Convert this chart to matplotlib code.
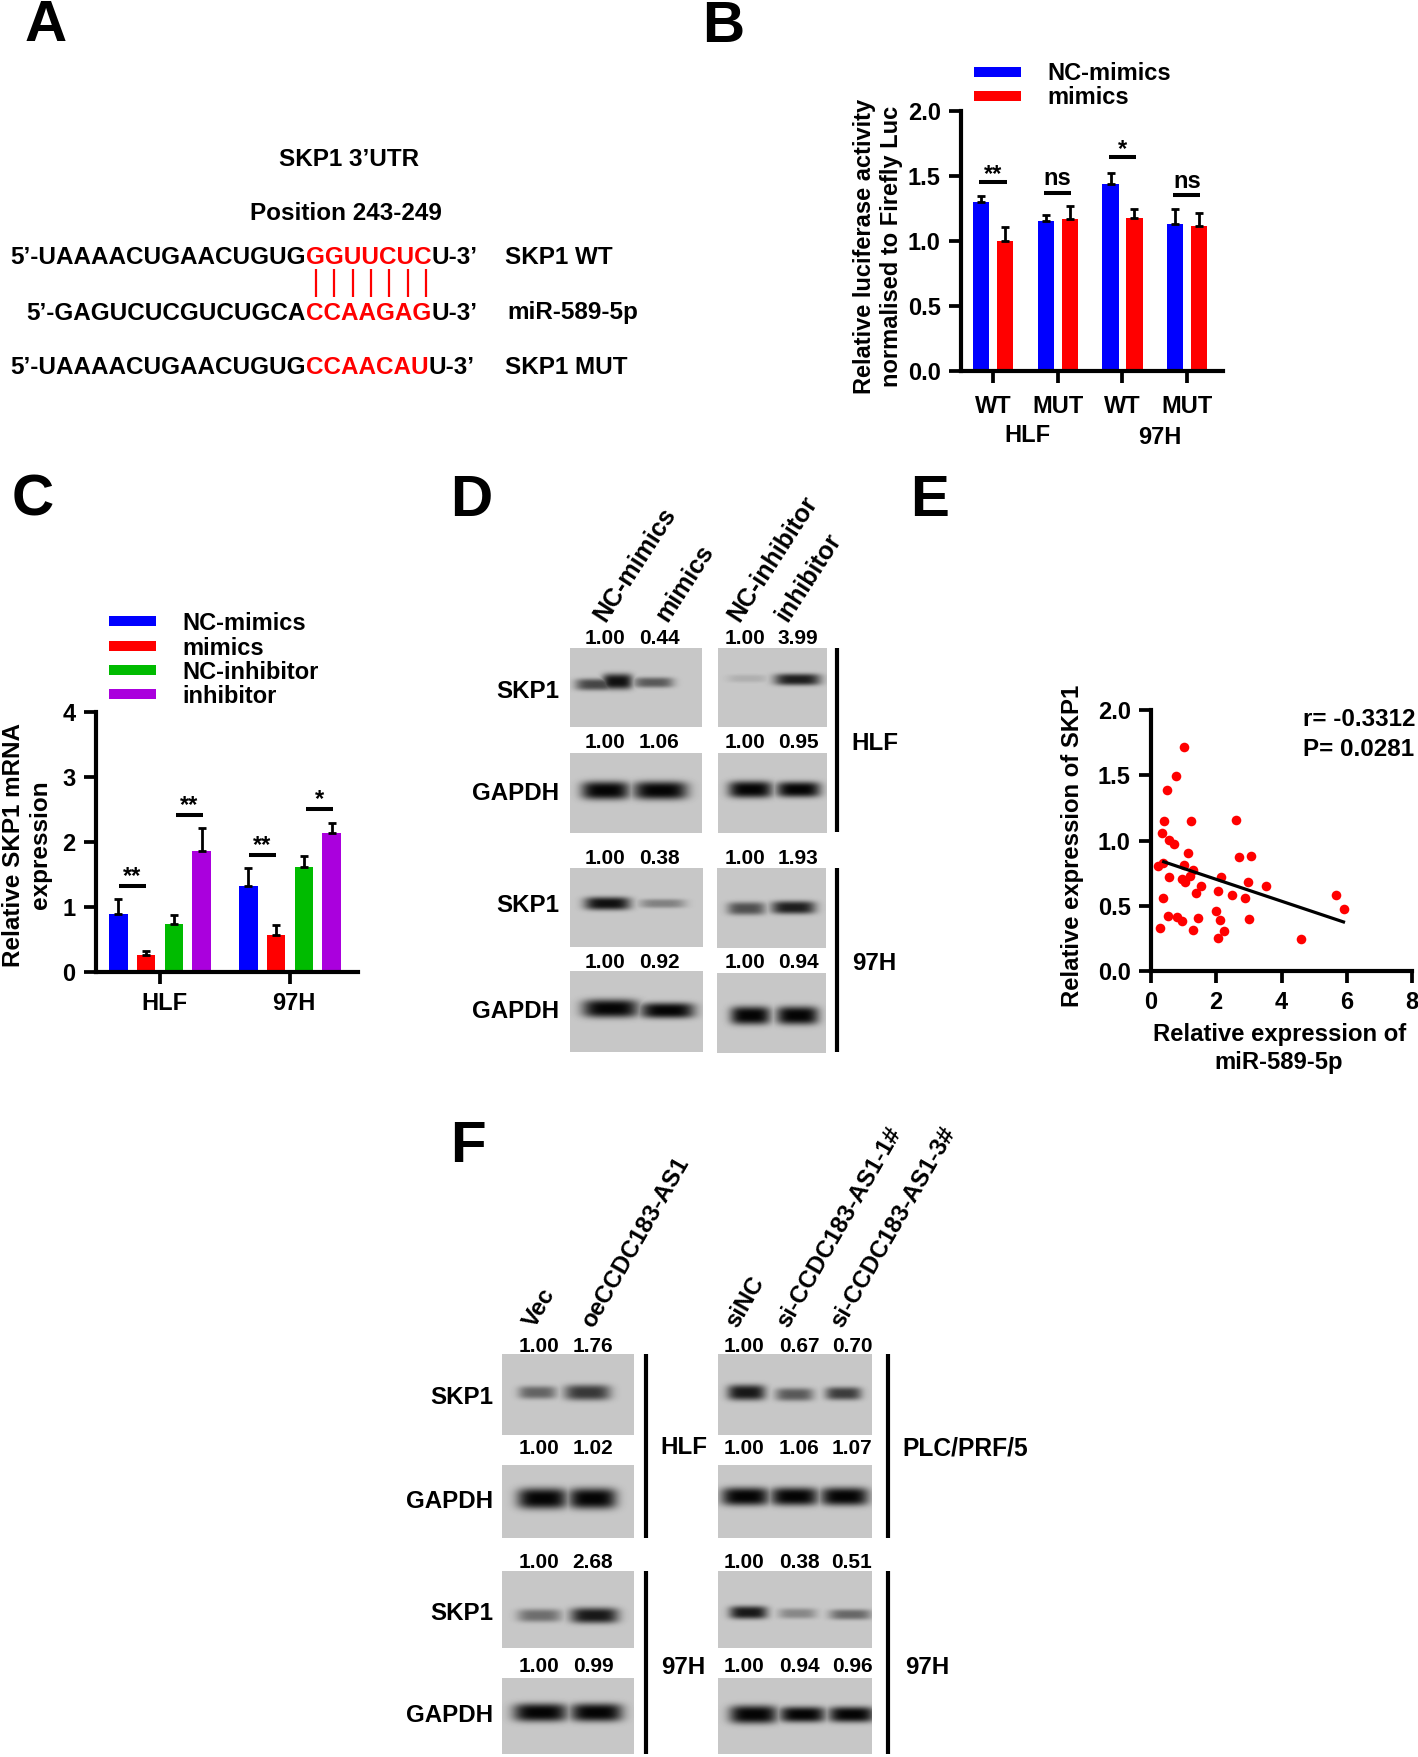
import numpy as np
from matplotlib import pyplot as plt

plt.rcParams['font.family'] = ['Liberation Sans', 'DejaVu Sans']
plt.rcParams['font.weight'] = 'bold'
plt.rcParams['axes.labelweight'] = 'bold'

W, H = 1418, 1757
BLUE, RED, GREEN, PURPLE = '#0000ff', '#ff0000', '#00bb00', '#aa00dd'
FS = 17
LAB = 17.4

# panel B
b_ticks = ['WT', 'MUT', 'WT', 'MUT']
b_nc = [1.30, 1.155, 1.44, 1.13]
b_nc_top = [1.346, 1.20, 1.525, 1.25]
b_mim = [1.00, 1.17, 1.175, 1.115]
b_mim_top = [1.108, 1.27, 1.25, 1.213]
b_sig = ['**', 'ns', '*', 'ns']
b_sig_y = [1.454, 1.37, 1.644, 1.351]

# panel C
c_groups = ['HLF', '97H']
c_names = ['NC-mimics', 'mimics', 'NC-inhibitor', 'inhibitor']
c_vals = [[0.89, 1.33], [0.256, 0.564], [0.733, 1.61], [1.867, 2.144]]
c_tops = [[1.12, 1.595], [0.32, 0.723], [0.87, 1.785], [2.21, 2.297]]
c_sig = ['**', '**', '**', '*']
c_sig_y = [1.33, 2.415, 1.80, 2.51]

# panel E
e_x = [1.00, 0.78, 0.49, 0.41, 0.35, 0.54, 0.69, 1.14, 1.24, 2.60, 2.70, 3.07, 0.20, 0.36,
       1.00, 1.29, 1.21, 0.96, 1.03, 0.54, 2.15, 2.98, 3.53, 1.53, 1.37, 2.04, 2.49, 2.88,
       0.37, 0.51, 0.81, 0.94, 0.27, 1.44, 1.30, 1.98, 2.11, 2.99, 2.25, 2.06, 4.61, 5.66, 5.91]
e_y = [1.718, 1.495, 1.388, 1.147, 1.055, 1.004, 0.976, 0.907, 1.147, 1.155, 0.873, 0.878, 0.804, 0.825,
       0.809, 0.776, 0.727, 0.704, 0.679, 0.72, 0.722, 0.679, 0.65, 0.65, 0.594, 0.615, 0.584, 0.561,
       0.561, 0.425, 0.41, 0.384, 0.33, 0.407, 0.318, 0.461, 0.387, 0.399, 0.305, 0.256, 0.243, 0.579, 0.474]
e_fit_x = [0.39, 5.90]
e_fit_y = [0.837, 0.376]

# blot quantification labels
d_vals = [['1.00', '0.44', '1.00', '3.99'], ['1.00', '1.06', '1.00', '0.95'],
          ['1.00', '0.38', '1.00', '1.93'], ['1.00', '0.92', '1.00', '0.94']]
f_vals = [['1.00', '1.76', '1.00', '0.67', '0.70'], ['1.00', '1.02', '1.00', '1.06', '1.07'],
          ['1.00', '2.68', '1.00', '0.38', '0.51'], ['1.00', '0.99', '1.00', '0.94', '0.96']]


def px_axes(left, top, right, bottom):
    return fig.add_axes([left / W, 1 - bottom / H, (right - left) / W, (bottom - top) / H])


def style_axes(ax):
    ax.patch.set_alpha(0)
    for s in ['top', 'right']:
        ax.spines[s].set_visible(False)
    for s in ['left', 'bottom']:
        ax.spines[s].set_linewidth(3)
    ax.tick_params(length=8.6, width=2.7, labelsize=17, pad=6)


def blot(x0, y0, x1, y1, bands):
    # bands are (centre x, centre y, half width, half height, darkness) in pixels
    yy, xx = np.mgrid[y0:y1, x0:x1]
    prof = np.zeros(xx.shape)
    for cx, cy, hw, hh, dark in bands:
        p = dark * np.exp(-(np.abs(xx - cx) / hw) ** 4) * np.exp(-(np.abs(yy - cy) / (1.3 * hh)) ** 3)
        prof = np.maximum(prof, p)
    img = 0.78 * (1 - prof)
    pg.imshow(img, extent=(x0, x1, y1, y0), cmap='gray', vmin=0, vmax=1, aspect='auto', interpolation='bilinear')


def txt(x, y, s, size=FS, ha='center', color='k', **kw):
    return pg.text(x, y, s, fontsize=size, ha=ha, va='center', color=color, **kw)


def seq_row(x_red, y, before, red, after):
    # black - red - black, glued together around the start of the red part
    r = fig.canvas.get_renderer()
    txt(x_red, y, before, size=SEQ_FS, ha='right')
    t = txt(x_red, y, red, size=SEQ_FS, ha='left', color=RED)
    bb = t.get_window_extent(r)
    txt(bb.x1, y, after, size=SEQ_FS, ha='left')


fig = plt.figure(figsize=(W / 100, H / 100), dpi=100)
pg = fig.add_axes([0, 0, 1, 1])
pg.axis('off')
pg.set_xlim(0, W)
pg.set_ylim(H, 0)
pg.set_autoscale_on(False)

# panel letters
for s, x, y in [('A', 25, 26), ('B', 702, 27), ('C', 12, 501), ('D', 450, 501), ('E', 910, 501), ('F', 450, 1147)]:
    txt(x, y, s, size=42, ha='left')

# A
SEQ_FS = 17.5
txt(349, 160, 'SKP1 3’UTR', size=SEQ_FS)
txt(346, 214, 'Position 243-249', size=SEQ_FS)
seq_row(306, 258, '5’-UAAAACUGAACUGUG', 'GGUUCUC', 'U-3’')
seq_row(306, 313, '5’-GAGUCUCGUCUGCA', 'CCAAGAG', 'U-3’')
seq_row(306, 367, '5’-UAAAACUGAACUGUG', 'CCAACAU', 'U-3’')
txt(505, 258, 'SKP1 WT', size=SEQ_FS, ha='left')
txt(507, 313, 'miR-589-5p', size=SEQ_FS, ha='left')
txt(505, 367, 'SKP1 MUT', size=SEQ_FS, ha='left')
pg.vlines([316, 334, 353, 371, 389, 408, 426], 269, 297, color=RED, lw=1.6)

# B
ax = px_axes(961, 111, 1223, 371)
style_axes(ax)
xb = np.arange(4)
ax.bar(xb - 0.18, b_nc, 0.252, color=BLUE)
ax.bar(xb + 0.19, b_mim, 0.252, color=RED)
for xs, v, top in [(xb - 0.18, b_nc, b_nc_top), (xb + 0.19, b_mim, b_mim_top)]:
    v = np.array(v)
    ax.errorbar(xs, v, yerr=[np.zeros(4), np.array(top) - v], fmt='none', ecolor='k', elinewidth=2, capsize=3, capthick=2)
for i in range(4):
    ax.plot([i - 0.21, i + 0.21], [b_sig_y[i]] * 2, color='k', lw=2.9, solid_capstyle='butt')
    dy = 0.06 if b_sig[i] == '*' or b_sig[i] == '**' else 0.11
    ax.text(i, b_sig_y[i] + dy, b_sig[i], ha='center', va='center', fontsize=FS)
ax.set_xlim(-0.495, 3.56)
ax.set_ylim(0, 2)
ax.set_yticks([0, 0.5, 1, 1.5, 2], ['0.0', '0.5', '1.0', '1.5', '2.0'])
ax.set_xticks(xb, b_ticks)
ax.tick_params(axis='x', pad=9)
txt(1027, 435, 'HLF')
txt(1160, 437, '97H')
txt(878, 246, 'Relative luciferase activity\nnormalised to Firefly Luc', rotation=90, linespacing=1.25, multialignment='center')
pg.fill_between([974, 1021], 67, 77, color=BLUE, lw=0)
pg.fill_between([974, 1021], 91, 101, color=RED, lw=0)
txt(1047, 73, 'NC-mimics', ha='left')
txt(1047, 98, 'mimics', ha='left')

# C
ax = px_axes(96, 712, 358, 972)
style_axes(ax)
offs = [-0.32, -0.108, 0.108, 0.32]
cols = [BLUE, RED, GREEN, PURPLE]
xc = np.arange(2)
for k in range(4):
    v = np.array(c_vals[k])
    ax.bar(xc + offs[k], v, 0.144, color=cols[k])
    ax.errorbar(xc + offs[k], v, yerr=[np.zeros(2), np.array(c_tops[k]) - v], fmt='none', ecolor='k', elinewidth=2, capsize=3, capthick=2)
sig_x = [-0.213, 0.226, 0.787, 1.228]
for sx, sy, s in zip(sig_x, c_sig_y, c_sig):
    ax.plot([sx - 0.105, sx + 0.105], [sy, sy], color='k', lw=2.9, solid_capstyle='butt')
    ax.text(sx, sy + 0.14, s, ha='center', va='center', fontsize=FS)
ax.set_xlim(-0.492, 1.523)
ax.set_ylim(0, 4)
ax.set_yticks([0, 1, 2, 3, 4])
ax.set_xticks(xc, [])
txt(164, 1003, c_groups[0])
txt(294, 1003, c_groups[1])
txt(27, 845, 'Relative SKP1 mRNA\nexpression', size=17.5, rotation=90, linespacing=1.25, multialignment='center')
for k, yy in enumerate([621, 646, 670, 694]):
    pg.fill_between([109, 156], yy - 5, yy + 5, color=cols[k], lw=0)
    txt(182, yy + 2.5, c_names[k], ha='left')

# D blots
blot(570, 648, 702, 727, [(595, 684, 20, 4.5, 0.65), (617, 681, 15, 6, 0.92), (653, 682, 20, 4, 0.55)])
blot(570, 753, 702, 833, [(605, 790, 24, 7, 0.98), (660, 790, 27, 7, 0.98)])
blot(570, 868, 703, 947, [(607, 903, 23, 5, 0.92), (662, 903, 23, 3.5, 0.35)])
blot(570, 971, 703, 1052, [(610, 1008, 28, 7, 0.98), (667, 1010, 27, 6, 0.98)])
blot(718, 648, 827, 727, [(747, 678, 20, 3, 0.12), (797, 679, 23, 4.5, 0.85)])
blot(718, 753, 827, 833, [(750, 789, 22, 6.5, 0.98), (798, 789, 22, 6, 0.98)])
blot(717, 868, 826, 948, [(746, 908, 19, 5, 0.6), (793, 907, 22, 5, 0.85)])
blot(717, 973, 826, 1053, [(750, 1015, 20, 7, 0.98), (797, 1015, 21, 7, 0.98)])
pg.vlines([837, 837], [648, 868], [832, 1052], color='k', lw=3)
for row, yy in zip(d_vals, [639, 742, 859, 962]):
    for s, xx in zip(row, [605, 659, 745, 798]):
        txt(xx, yy, s, size=15)
for s, yy in zip(['SKP1', 'GAPDH', 'SKP1', 'GAPDH'], [691, 794, 906, 1011]):
    txt(559, yy, s, size=LAB, ha='right')
txt(851, 744, 'HLF', ha='left', size=LAB)
txt(852, 963, '97H', ha='left', size=LAB)
for s, xx in [('NC-mimics', 600), ('mimics', 661), ('NC-inhibitor', 734), ('inhibitor', 781)]:
    pg.text(xx, 619, s, fontsize=18, rotation=57, rotation_mode='anchor', ha='left', va='center')

# E
ax = px_axes(1151, 710, 1412, 971)
style_axes(ax)
ax.scatter(e_x, e_y, s=48, color=RED, lw=0, zorder=3, clip_on=False)
ax.plot(e_fit_x, e_fit_y, color='k', lw=2.3, zorder=4)
ax.set_xlim(0, 8)
ax.set_ylim(0, 2)
ax.set_xticks([0, 2, 4, 6, 8])
ax.set_yticks([0, 0.5, 1, 1.5, 2], ['0.0', '0.5', '1.0', '1.5', '2.0'])
txt(1303, 720, 'r= -0.3312', ha='left', size=17.4)
txt(1303, 749, 'P= 0.0281', ha='left', size=17.4)
txt(1280, 1034, 'Relative expression of', size=17.2)
txt(1279, 1063, 'miR-589-5p', size=17.2)
txt(1072, 846, 'Relative expression of SKP1', rotation=90, size=17.2)

# F blots
blot(502, 1354, 634, 1435, [(537, 1392, 19, 5, 0.5), (587, 1392, 23, 6, 0.72)])
blot(502, 1465, 634, 1538, [(542, 1498, 25, 8, 0.98), (592, 1498, 24, 8, 0.98)])
blot(502, 1571, 634, 1648, [(539, 1615, 22, 5, 0.45), (594, 1615, 24, 6, 0.88)])
blot(502, 1678, 634, 1754, [(540, 1712, 27, 7, 0.98), (596, 1712, 26, 7, 0.98)])
blot(718, 1354, 872, 1435, [(746, 1392, 19, 6, 0.88), (794, 1394, 19, 5, 0.55), (843, 1393, 18, 5, 0.7)])
blot(718, 1465, 872, 1538, [(745, 1496, 24, 7, 0.98), (794, 1496, 24, 7, 0.98), (844, 1496, 24, 7, 0.98)])
blot(718, 1571, 872, 1648, [(748, 1612, 19, 5, 0.88), (797, 1613, 19, 4, 0.32), (850, 1614, 21, 4, 0.48)])
blot(718, 1678, 872, 1754, [(753, 1714, 24, 7, 0.98), (802, 1714, 23, 6, 0.98), (851, 1714, 23, 6, 0.98)])
pg.vlines([646, 646, 888, 888], [1354, 1571, 1354, 1571], [1538, 1754, 1538, 1754], color='k', lw=3)
for row, yy in zip(f_vals, [1346, 1449, 1563, 1666]):
    for s, xx in zip(row, [539, 593, 744, 799, 852]):
        txt(xx, yy, s, size=15)
for s, yy in zip(['SKP1', 'GAPDH', 'SKP1', 'GAPDH'], [1397, 1501, 1613, 1715]):
    txt(493, yy, s, size=LAB, ha='right')
txt(684, 1448, 'HLF', size=LAB)
txt(683, 1667, '97H', size=LAB)
txt(902, 1448, 'PLC/PRF/5', ha='left', size=17.7)
txt(905, 1667, '97H', ha='left', size=LAB)
for s, xx in [('Vec', 529), ('oeCCDC183-AS1', 587), ('siNC', 731), ('si-CCDC183-AS1-1#', 782), ('si-CCDC183-AS1-3#', 836)]:
    pg.text(xx, 1326, s, fontsize=17.3, rotation=60, rotation_mode='anchor', ha='left', va='center')

fig.savefig('out.png', dpi=100)
